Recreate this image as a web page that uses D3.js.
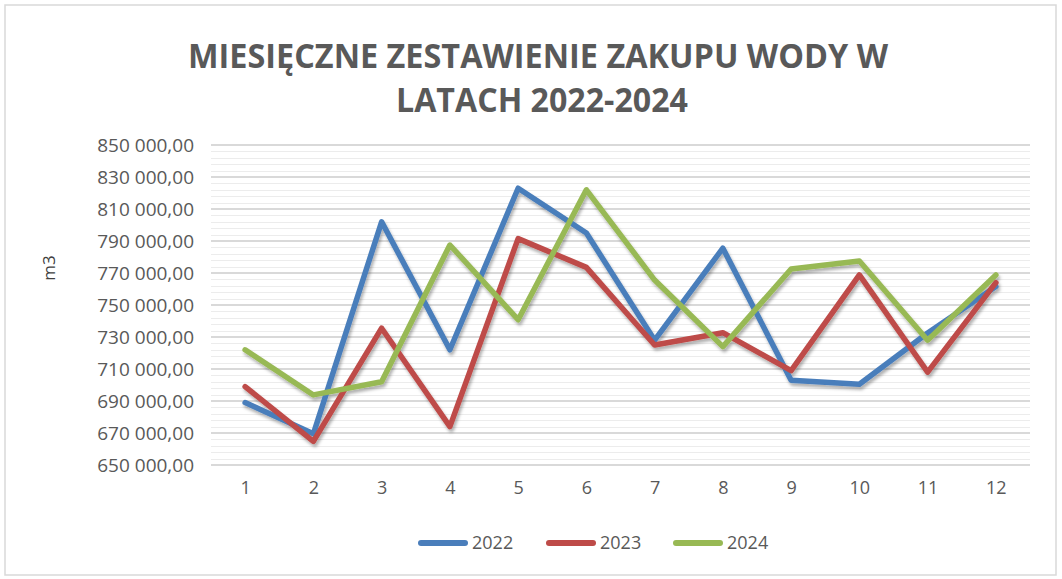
<!DOCTYPE html>
<html>
<head>
<meta charset="utf-8">
<script src="https://cdn.jsdelivr.net/npm/d3@7"></script>
<style>
  html, body { margin: 0; padding: 0; background: #fff; }
  svg { display: block; }
</style>
</head>
<body>
<svg id="chart" width="1062" height="579"></svg>
<script>
// ---- data ----
const months = [1, 2, 3, 4, 5, 6, 7, 8, 9, 10, 11, 12];
const seriesNames = ["2022", "2023", "2024"];
const values2022 = [689000, 669500, 802000, 722000, 823000, 795000, 728000, 785500, 703000, 700500, 732500, 761500];
const values2023 = [699000, 664800, 735500, 674000, 791500, 773500, 725000, 732700, 709000, 768800, 708000, 764000];
const values2024 = [722000, 693800, 702000, 787500, 740800, 822000, 765600, 724000, 772500, 777500, 728000, 768800];
const seriesColors = ["#4A7EBB", "#BE4B48", "#98B954"];
const yTicks = [650000, 670000, 690000, 710000, 730000, 750000, 770000, 790000, 810000, 830000, 850000];
const titleLines = ["MIESIĘCZNE ZESTAWIENIE ZAKUPU WODY W", "LATACH 2022-2024"];
const yAxisTitle = "m3";

const series = [values2022, values2023, values2024];

const svg = d3.select("#chart");

// shadow filter
const defs = svg.append("defs");
const f = defs.append("filter").attr("id", "shadow").attr("x", "-10%").attr("y", "-10%").attr("width", "120%").attr("height", "130%");
f.append("feDropShadow").attr("dx", 1.5).attr("dy", 3).attr("stdDeviation", 1.8)
  .attr("flood-color", "#000").attr("flood-opacity", 0.3);

// chart border
svg.append("rect").attr("x", 5).attr("y", 5).attr("width", 1051).attr("height", 570)
  .attr("fill", "#fff").attr("stroke", "#d9d9d9").attr("stroke-width", 1.5);

// title
const title = svg.append("g").attr("font-family", "'Open Sans', sans-serif").attr("font-weight", "bold")
  .attr("fill", "#595959").attr("font-size", 34).attr("text-anchor", "middle");
title.append("text").attr("x", 538).attr("y", 68).attr("textLength", 700).attr("lengthAdjust", "spacingAndGlyphs").text(titleLines[0]);
title.append("text").attr("x", 542).attr("y", 112).attr("textLength", 292).attr("lengthAdjust", "spacingAndGlyphs").text(titleLines[1]);

// scales
const x = d3.scalePoint().domain(months).range([211, 1030]).padding(0.5);
const y = d3.scaleLinear().domain([650000, 850000]).range([465, 145]);

// gridlines
const minor = d3.range(650000, 850001, 4000).filter(v => !yTicks.includes(v));
svg.append("g").selectAll("line").data(minor).join("line")
  .attr("x1", 211).attr("x2", 1030)
  .attr("y1", d => Math.round(y(d)) + 0.5).attr("y2", d => Math.round(y(d)) + 0.5)
  .attr("stroke", "#ececec").attr("stroke-width", 1);
svg.append("g").selectAll("line").data(yTicks).join("line")
  .attr("x1", 211).attr("x2", 1030)
  .attr("y1", d => y(d)).attr("y2", d => y(d))
  .attr("stroke", "#d9d9d9").attr("stroke-width", 1.8);

// y axis labels
const loc = d3.formatLocale({ decimal: ",", thousands: "\u00a0", grouping: [3], currency: ["", ""] });
const fmt = loc.format(",.2f");
const yAxis = d3.axisLeft(y).tickValues(yTicks).tickFormat(fmt).tickSize(0).tickPadding(0);
const yg = svg.append("g").attr("transform", "translate(194,0)").call(yAxis);
yg.select(".domain").remove();
yg.selectAll("text").attr("font-family", "'Open Sans', sans-serif").attr("font-size", 19).attr("fill", "#595959");

// x axis labels
const xAxis = d3.axisBottom(x).tickSize(0).tickPadding(0);
const xg = svg.append("g").attr("transform", "translate(0,481)").call(xAxis);
xg.select(".domain").remove();
xg.selectAll("text").attr("font-family", "'Open Sans', sans-serif").attr("font-size", 18).attr("fill", "#595959");

// y axis title
svg.append("text").attr("transform", "translate(55,268) rotate(-90)")
  .attr("text-anchor", "middle").attr("font-family", "'Open Sans', sans-serif").attr("font-size", 17)
  .attr("fill", "#404040").text(yAxisTitle);

// lines
const line = d3.line().x((d, i) => x(months[i])).y(d => y(d));
svg.append("g").attr("filter", "url(#shadow)").selectAll("path").data(series).join("path")
  .attr("d", line).attr("fill", "none")
  .attr("stroke", (d, i) => seriesColors[i]).attr("stroke-width", 5.5)
  .attr("stroke-linejoin", "round").attr("stroke-linecap", "round");

// legend
const legendX = [418, 546, 673];
const lg = svg.append("g");
seriesNames.forEach((name, i) => {
  lg.append("line").attr("x1", legendX[i] + 3).attr("x2", legendX[i] + 47).attr("y1", 543).attr("y2", 543)
    .attr("stroke", seriesColors[i]).attr("stroke-width", 6).attr("stroke-linecap", "round");
  lg.append("text").attr("x", legendX[i] + 54).attr("y", 543).attr("dy", "0.35em")
    .attr("font-family", "'Open Sans', sans-serif").attr("font-size", 18).attr("fill", "#595959").text(name);
});
</script>
</body>
</html>
